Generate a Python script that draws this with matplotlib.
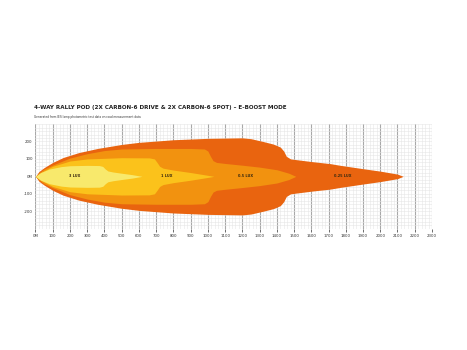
# beam pattern plot - 4 way rally pod
import numpy as np
import matplotlib.pyplot as plt
from matplotlib.ticker import MultipleLocator
from matplotlib import font_manager

# half widths (m) of each isolux contour vs distance (m)
x_025 = [0, 20, 50, 100, 160, 250, 360, 500, 600, 800, 1000, 1200, 1250, 1320, 1380,
         1420, 1440, 1455, 1480, 1520, 1600, 1710, 1770, 1900, 2000, 2100, 2133]
y_025 = [0, 28, 50, 80, 108, 136, 160, 183, 195, 210, 218, 221, 216, 200, 185,
         168, 145, 115, 100, 95, 85, 73, 63, 44, 30, 13, 0]

x_05 = [0, 20, 50, 100, 200, 300, 400, 500, 700, 900, 980, 1000, 1015, 1030, 1050,
        1100, 1200, 1300, 1400, 1470, 1510]
y_05 = [0, 20, 42, 65, 105, 130, 148, 157, 160, 160, 157, 145, 115, 90, 80,
        74, 64, 53, 38, 18, 0]

x_1 = [0, 20, 50, 100, 200, 300, 500, 660, 690, 705, 720, 740, 800, 900, 1000, 1035]
y_1 = [0, 15, 32, 58, 88, 100, 107, 106, 100, 80, 58, 47, 36, 22, 6, 0]

x_3 = [0, 30, 80, 150, 200, 300, 370, 390, 405, 420, 450, 500, 560, 618]
y_3 = [0, 22, 42, 56, 61, 63, 62, 57, 42, 31, 25, 18, 10, 0]

lux_labels = ['3 LUX', '1 LUX', '0.5 LUX', '0.25 LUX']
lux_pos = [226, 760, 1217, 1785]

xticks = list(range(0, 2400, 100))
xlabels = ['0M'] + [str(v) for v in xticks[1:]]
yticks = [200, 100, 0, -100, -200]
ylabels = ['200', '100', '0M', '-100', '-200']

colors = ['#E9640F', '#F2920F', '#FBC21B', '#F8E96C']

# look for any narrow / condensed bold font that is installed
narrow = None
best = 99
for fe in font_manager.fontManager.ttflist:
    nm = (fe.name + ' ' + fe.fname).lower()
    is_narrow = ('condensed' in nm or 'narrow' in nm or
                 fe.stretch in ('condensed', 'semi-condensed', 'extra-condensed', 'ultra-condensed'))
    if not is_narrow or 'italic' in nm or 'oblique' in nm:
        continue
    w = fe.weight if isinstance(fe.weight, int) else 700
    score = abs(w - 700) / 100
    if score < best:
        best = score
        narrow = fe.fname
if narrow:
    tprops = font_manager.FontProperties(fname=narrow)
else:
    tprops = font_manager.FontProperties(family='DejaVu Sans', weight='bold')
sprops = font_manager.FontProperties(family='DejaVu Sans')

fig = plt.figure(figsize=(4.67, 3.5), dpi=100)
ax = fig.add_axes([0.076, 0.3466, 0.849, 0.299])

for xs, ys, c in zip([x_025, x_05, x_1, x_3], [y_025, y_05, y_1, y_3], colors):
    xs = np.array(xs)
    ys = np.array(ys)
    ax.fill_between(xs, -ys, ys, color=c, linewidth=0, zorder=3)

for lab, xp in zip(lux_labels, lux_pos):
    ax.text(xp, 0, lab, fontproperties=tprops, fontsize=2.8, color='#3a2a10',
            ha='center', va='center', zorder=5)

ax.set_xlim(0, 2300)
ax.set_ylim(-300, 300)
ax.xaxis.set_minor_locator(MultipleLocator(20))
ax.yaxis.set_minor_locator(MultipleLocator(20))
ax.set_xticks(xticks)
ax.set_xticklabels(xlabels)
ax.set_yticks(yticks)
ax.set_yticklabels(ylabels)
ax.tick_params(labelsize=2.8, colors='#333333', length=2, width=0.5, pad=2)
ax.tick_params(axis='y', length=0)
ax.tick_params(which='minor', length=0)
ax.grid(which='minor', color='#e6e6e6', linewidth=0.4, zorder=0)
ax.grid(which='major', axis='x', color='#a8a8a8', linewidth=0.8, zorder=1)
ax.grid(which='major', axis='y', color='#e6e6e6', linewidth=0.4, zorder=0)
for s in ax.spines.values():
    s.set_visible(False)
ax.set_axisbelow(True)

title = fig.text(0.073, 0.694,
                 '4-WAY RALLY POD (2X CARBON-6 DRIVE & 2X CARBON-6 SPOT) \u2013 E-BOOST MODE',
                 fontproperties=tprops, fontsize=7.2, color='#222222', va='center')
sub = fig.text(0.073, 0.665,
               'Generated from IES lamp photometric test data on road measurement data',
               fontproperties=sprops, fontsize=2.8, color='#333333', va='center')

# fit title and subtitle widths to the reference (about 256 px and 112 px)
fig.canvas.draw()
r = fig.canvas.get_renderer()
for t, w in [(title, 256), (sub, 112)]:
    bw = t.get_window_extent(r).width
    t.set_fontsize(t.get_fontsize() * w / bw)

fig.savefig('out.png', dpi=100)
